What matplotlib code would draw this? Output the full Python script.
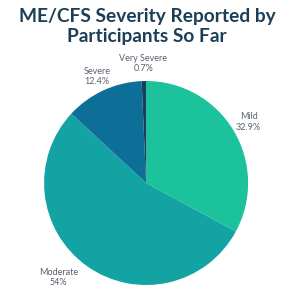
import numpy as np
import matplotlib
matplotlib.use("Agg")
import matplotlib.pyplot as plt

# severity shares as reported
categories = ["Mild", "Moderate", "Severe", "Very Severe"]
shares = [32.9, 54.0, 12.4, 0.7]
pct_labels = ["32.9%", "54%", "12.4%", "0.7%"]
colors = ["#1cc29c", "#13a3a3", "#0d6e98", "#173f5f"]

plt.rcParams["font.family"] = ["Lato", "DejaVu Sans"]

fig = plt.figure(figsize=(3, 3), dpi=100)
fig.patch.set_facecolor("white")
ax = fig.add_axes([0.147, 0.05, 0.68, 0.68])

wedges, _ = ax.pie(shares, colors=colors, startangle=90, counterclock=False,
                   wedgeprops=dict(linewidth=0))
ax.set_xlim(-1, 1)
ax.set_ylim(-1, 1)
ax.set_aspect("equal")

# label placement per wedge (distance from centre, horizontal alignment)
dists = [1.17, 1.14, 1.15, 1.17]
aligns = ["center", "right", "center", "center"]
for w, cat, pct, d, ha in zip(wedges, categories, pct_labels, dists, aligns):
    ang = np.deg2rad((w.theta1 + w.theta2) / 2)
    x, y = d * np.cos(ang), d * np.sin(ang)
    ax.text(x, y, f"{cat}\n{pct}", ha=ha, va="center", fontsize=6.5,
            color="#5a6070", linespacing=1.2, multialignment="center")

fig.text(0.49, 0.912, "ME/CFS Severity Reported by\nParticipants So Far",
         ha="center", va="center", fontsize=13.8, fontweight="bold",
         color="#1c3f58", linespacing=1.25)

fig.savefig("out.png", dpi=100, facecolor="white")
